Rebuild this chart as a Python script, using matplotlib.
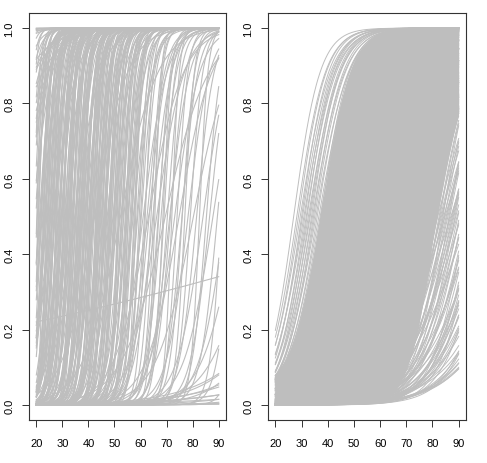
import numpy as np
import matplotlib
matplotlib.use("Agg")
import matplotlib.pyplot as plt

# each curve is a logistic p = 1 / (1 + exp(-slope * (age - mid)))
# left panel: wide prior
left_mid_low = [-45, -22, -9, 0, 3, 6, 8, 10, 11, 12,
                13, 14, 14.5, 15, 15.5, 16, 16.5, 17, 17.5, 18,
                18.5, 19, 19.5, -30, 5, 9, 12.5, 16.2, 18.8, 7]
left_slope_low = [0.15, 0.30, 0.20, 0.12, 0.25, 0.40, 0.18, 0.30, 0.50, 0.22,
                  0.35, 0.60, 0.20, 0.28, 0.45, 0.70, 0.33, 0.50, 0.90, 0.40,
                  0.26, 0.55, 0.38, 0.10, 0.14, 0.60, 0.17, 0.24, 0.80, 0.13]

left_mid_mid = [20.4, 20.9, 21.2, 21.9, 22.3, 22.5, 23.1, 23.4, 23.8, 24.0,
                24.6, 25.1, 25.3, 25.9, 26.0, 26.4, 26.7, 27.2, 27.8, 28.1,
                28.4, 28.9, 29.0, 29.5, 29.7, 30.3, 30.8, 31.1, 31.6, 31.9,
                32.2, 32.5, 33.0, 33.6, 33.9, 34.4, 34.7, 35.0, 35.2, 35.9,
                36.3, 36.6, 37.2, 37.5, 37.9, 38.1, 38.7, 39.3, 39.5, 40.1,
                40.4, 40.8, 41.0, 41.7, 42.2, 42.4, 43.1, 43.4, 43.8, 44.2,
                44.6, 45.3, 45.9, 46.2, 46.4, 46.9, 47.5, 48.0, 48.3, 49.0,
                49.4, 49.8, 50.4, 50.7, 51.5, 52.0, 52.3, 52.6, 53.4, 54.1,
                54.5, 55.0, 55.3, 56.0, 56.4, 57.2, 57.8, 58.1, 58.6, 59.5]
left_slope_mid = [0.55, 0.80, 0.42, 0.50, 0.34, 0.65, 0.48, 0.45, 1.00, 0.38,
                  0.60, 0.30, 0.70, 0.53, 0.55, 0.22, 0.90, 0.46, 0.62, 0.60,
                  0.40, 0.75, 0.56, 0.36, 0.48, 0.85, 0.44, 0.52, 0.51, 0.68,
                  0.35, 0.64, 0.95, 0.44, 0.58, 0.58, 0.20, 0.62, 0.49, 0.47,
                  0.78, 0.41, 0.60, 0.56, 0.43, 0.88, 0.54, 0.37, 0.66, 0.39,
                  0.50, 0.72, 0.43, 0.63, 0.60, 0.16, 0.57, 0.82, 0.45, 0.46,
                  0.50, 0.64, 0.34, 0.53, 0.59, 0.92, 0.42, 0.48, 0.53, 0.70,
                  0.28, 0.61, 0.57, 0.46, 0.76, 0.55, 0.14, 0.49, 0.63, 0.48,
                  0.44, 0.30, 0.68, 0.52, 0.54, 0.27, 0.60, 0.86, 0.44, 0.59]

left_mid_steep = [19.8, 20.2, 21.5, 22.0, 22.8, 23.3, 24.3, 24.9, 25.6, 26.2,
                  26.9, 27.5, 28.6, 29.3, 30.0, 30.6, 31.3, 32.0, 32.7, 33.4,
                  34.0, 34.9, 35.6, 36.1, 36.8, 37.6, 38.4, 39.0, 39.9, 40.6,
                  41.3, 42.0, 42.7, 43.3, 44.0, 44.9, 45.6, 46.6, 47.2, 48.1,
                  48.8, 49.6, 50.3, 51.1, 51.9, 52.8, 53.6, 54.4, 55.4, 56.6,
                  57.5, 58.9, 60.0, 61.5, 63.3, 65.0, 66.8, 69.0, 71.5, 76.0]
left_slope_steep = [0.45, 0.90, 0.35, 0.60, 1.20, 0.40, 0.75, 0.50, 0.30, 0.85,
                    0.55, 1.10, 0.38, 0.65, 0.48, 0.95, 0.33, 0.70, 0.42, 1.00,
                    0.58, 0.36, 0.80, 0.46, 0.62, 0.32, 0.88, 0.52, 0.40, 0.74,
                    0.56, 0.34, 0.98, 0.44, 0.66, 0.38, 0.82, 0.50, 0.30, 0.72,
                    0.46, 0.60, 0.36, 0.90, 0.42, 0.54, 0.32, 0.78, 0.48, 0.40,
                    0.64, 0.35, 0.52, 0.44, 0.30, 0.58, 0.38, 0.46, 0.34, 0.42]

left_mid_extra = [18.5, 19.2, 20.7, 21.6, 22.9, 23.6, 24.5, 25.4, 26.3, 27.1,
                  27.6, 28.7, 29.9, 30.5, 31.5, 32.4, 33.1, 34.2, 35.3, 36.2,
                  37.0, 37.7, 38.6, 39.4, 40.3, 41.2, 41.8, 42.9, 43.6, 44.4,
                  45.1, 46.0, 46.7, 47.7, 48.5, 50.0, 51.7, 53.0, 54.8, 56.8]
left_slope_extra = [0.60, 0.45, 0.72, 0.52, 0.66, 0.48, 0.85, 0.56, 0.62, 0.44,
                    0.78, 0.50, 0.58, 0.70, 0.46, 0.64, 0.54, 0.90, 0.48, 0.60,
                    0.52, 0.74, 0.45, 0.66, 0.56, 0.80, 0.50, 0.62, 0.47, 0.70,
                    0.55, 0.64, 0.49, 0.58, 0.68, 0.52, 0.60, 0.46, 0.66, 0.54]

left_mid_high = [60.3, 61.0, 61.8, 62.5, 63.1, 64.0, 64.7, 65.5, 66.2, 67.0,
                 67.9, 68.6, 69.5, 70.3, 71.2, 72.0, 73.1, 74.0, 74.8, 75.9,
                 77.0, 78.2, 79.1, 80.3, 81.5, 82.6, 84.0, 85.3, 86.5, 87.8,
                 89.5, 91.0, 92.5, 95.0, 97.0, 99.0, 104.0, 118.0, 125.0, 130.0,
                 138.0, 145.0, 150.0, 160.0, 170.0, 180.0, 200.0, 230.0, 260.0, 300.0,
                 167.0]
left_slope_high = [0.40, 0.22, 0.65, 0.30, 0.15, 0.52, 0.28, 0.80, 0.19, 0.45,
                   0.34, 0.60, 0.12, 0.38, 0.26, 0.70, 0.21, 0.48, 0.16, 0.33,
                   0.55, 0.24, 0.42, 0.14, 0.30, 0.62, 0.20, 0.36, 0.27, 0.18,
                   0.30, 0.45, 0.20, 0.35, 0.15, 0.40, 0.12, 0.10, 0.07, 0.06,
                   0.06, 0.09, 0.05, 0.06, 0.045, 0.04, 0.05, 0.03, 0.035, 0.03,
                   0.0086]

# right panel: tighter prior
right_mid_left = [27.0, 28.2, 28.8, 29.5, 30.0, 30.4, 30.9, 31.3, 31.8, 32.1,
                  32.6, 33.0, 33.3, 33.8, 34.2, 34.6, 35.0, 35.5, 36.0, 36.6]
right_slope_left = [0.200, 0.185, 0.190, 0.175, 0.195, 0.180, 0.170, 0.188, 0.176, 0.192,
                    0.168, 0.182, 0.174, 0.186, 0.165, 0.178, 0.172, 0.160, 0.170, 0.158]

right_mid_core = [37.1, 37.4, 37.8, 38.0, 38.3, 38.7, 38.9, 39.2, 39.6, 39.8,
                  40.1, 40.5, 40.7, 41.0, 41.4, 41.6, 41.9, 42.3, 42.5, 42.8,
                  43.2, 43.4, 43.7, 44.1, 44.3, 44.6, 45.0, 45.2, 45.5, 45.9,
                  46.1, 46.4, 46.8, 47.0, 47.3, 47.7, 47.9, 48.2, 48.6, 48.8,
                  49.1, 49.5, 49.7, 50.0, 50.4, 50.6, 50.9, 51.3, 51.5, 51.8,
                  52.2, 52.4, 52.7, 53.1, 53.3, 53.6, 54.0, 54.2, 54.5, 54.9,
                  55.1, 55.4, 55.8, 56.0, 56.3, 56.7, 56.9, 57.2, 57.6, 57.8,
                  58.1, 58.5, 58.7, 59.0, 59.4, 59.6, 59.9, 60.3, 60.5, 60.8,
                  61.2, 61.4, 61.7, 62.1, 62.3, 62.6, 63.0, 63.2, 63.5, 63.9,
                  64.1, 64.4, 64.8, 65.0, 65.3, 65.7, 65.9, 66.2, 66.6, 66.8,
                  67.1, 67.5, 67.7, 68.0, 68.4, 68.6, 68.9, 69.3, 69.5, 69.8,
                  70.2, 70.4, 70.7, 71.1, 71.3, 71.6, 72.0, 72.2, 72.5, 72.9,
                  73.1, 73.4, 73.8, 74.0, 74.3, 74.7, 74.9, 75.2, 75.6, 75.8,
                  76.1, 76.5, 76.7, 77.0, 77.4, 77.6, 77.9, 78.3, 78.5, 78.8,
                  79.1, 79.5, 79.7, 80.0, 80.4, 80.6, 80.9, 81.3, 81.5, 81.8]
right_slope_core = [0.160, 0.185, 0.150, 0.172, 0.148, 0.190, 0.158, 0.140, 0.176, 0.145,
                    0.130, 0.168, 0.122, 0.180, 0.135, 0.150, 0.118, 0.162, 0.128, 0.195,
                    0.112, 0.155, 0.104, 0.178, 0.125, 0.100, 0.142, 0.187, 0.110, 0.165,
                    0.098, 0.140, 0.170, 0.092, 0.120, 0.152, 0.095, 0.182, 0.108, 0.132,
                    0.090, 0.160, 0.115, 0.085, 0.145, 0.100, 0.175, 0.088, 0.130, 0.196,
                    0.082, 0.125, 0.150, 0.095, 0.170, 0.078, 0.138, 0.110, 0.185, 0.090,
                    0.075, 0.148, 0.100, 0.162, 0.085, 0.128, 0.190, 0.072, 0.115, 0.155,
                    0.070, 0.135, 0.092, 0.175, 0.110, 0.080, 0.150, 0.068, 0.125, 0.098,
                    0.140, 0.075, 0.165, 0.088, 0.120, 0.065, 0.105, 0.180, 0.082, 0.132,
                    0.070, 0.112, 0.155, 0.062, 0.095, 0.142, 0.078, 0.170, 0.100, 0.058,
                    0.125, 0.068, 0.150, 0.085, 0.060, 0.110, 0.178, 0.072, 0.138, 0.092,
                    0.065, 0.120, 0.088, 0.160, 0.070, 0.105, 0.145, 0.075, 0.130, 0.095,
                    0.150, 0.080, 0.110, 0.175, 0.090, 0.125, 0.085, 0.160, 0.100, 0.140,
                    0.090, 0.165, 0.115, 0.100, 0.140, 0.185, 0.105, 0.128, 0.155, 0.112,
                    0.120, 0.170, 0.135, 0.150, 0.190, 0.140, 0.160, 0.200, 0.175, 0.150]

right_mid_fringe = [80.5, 81.2, 82.0, 82.8, 83.1, 83.7, 84.3, 84.6, 85.2, 85.9,
                    86.6, 87.3, 87.6, 88.2, 88.9, 89.7, 90.6, 91.4, 92.2, 93.0,
                    93.9, 94.7, 95.6, 96.4, 97.5, 98.5, 99.6, 101.0, 102.2, 103.4]
right_slope_fringe = [0.125, 0.140, 0.110, 0.150, 0.120, 0.135, 0.105, 0.145, 0.115, 0.128,
                      0.138, 0.108, 0.122, 0.132, 0.112, 0.126, 0.118, 0.136, 0.104, 0.124,
                      0.114, 0.130, 0.102, 0.120, 0.110, 0.116, 0.100, 0.106, 0.098, 0.102]

right_mid_right = [82.5, 83.4, 84.0, 84.8, 85.5, 86.3, 87.0, 87.9, 88.6, 89.4,
                   90.3, 91.0, 91.9, 92.7, 93.5, 94.4, 95.2, 96.0, 97.1, 98.0,
                   99.2, 100.1, 101.3, 102.5, 103.6, 104.8, 106.0, 107.5, 108.8, 110.0,
                   111.5, 112.6, 113.8, 115.0, 116.3, 117.5, 118.5, 96.5, 100.7, 105.5]
right_slope_right = [0.150, 0.110, 0.175, 0.095, 0.130, 0.160, 0.088, 0.120, 0.145, 0.100,
                     0.135, 0.090, 0.118, 0.155, 0.085, 0.108, 0.140, 0.092, 0.125, 0.100,
                     0.088, 0.115, 0.095, 0.082, 0.105, 0.090, 0.112, 0.086, 0.098, 0.084,
                     0.092, 0.080, 0.088, 0.083, 0.085, 0.080, 0.079, 0.150, 0.130, 0.120]

age = np.linspace(20, 90, 300)
x_ticks = [20, 30, 40, 50, 60, 70, 80, 90]
y_ticks = [0.0, 0.2, 0.4, 0.6, 0.8, 1.0]
GREY = '#BEBEBE'

plt.rcParams['font.family'] = ['Liberation Sans', 'DejaVu Sans']

fig = plt.figure(figsize=(4.87, 4.64), dpi=100)
ax1 = fig.add_axes([29/487, 43/464, 197/487, 407/464])
ax2 = fig.add_axes([268/487, 43/464, 198/487, 407/464])


def curves(mids, slopes):
    m = np.asarray(mids)[:, None]
    s = np.asarray(slopes)[:, None]
    return 1.0 / (1.0 + np.exp(-s * (age[None, :] - m)))


def draw_curves(ax, mids, slopes, lw=0.8):
    for p in curves(mids, slopes):
        ax.plot(age, p, color=GREY, lw=lw)


draw_curves(ax1, left_mid_low, left_slope_low)
draw_curves(ax1, left_mid_mid, left_slope_mid)
draw_curves(ax1, left_mid_steep, left_slope_steep)
draw_curves(ax1, left_mid_extra, left_slope_extra)
draw_curves(ax1, left_mid_high, left_slope_high)

# the core of the right panel is so dense it prints as a solid band
core = curves(right_mid_core, right_slope_core)
ax2.fill_between(age, core.min(axis=0), core.max(axis=0), color=GREY, lw=0)
draw_curves(ax2, right_mid_core, right_slope_core, lw=0.7)
draw_curves(ax2, right_mid_left, right_slope_left, lw=0.7)
draw_curves(ax2, right_mid_fringe, right_slope_fringe, lw=0.7)
draw_curves(ax2, right_mid_right, right_slope_right, lw=0.7)

for ax in (ax1, ax2):
    ax.set_xlim(17.2, 92.8)
    ax.set_ylim(-0.04, 1.04)
    ax.set_xticks(x_ticks)
    ax.set_xticklabels([str(t) for t in x_ticks])
    ax.set_yticks(y_ticks)
    ax.set_yticklabels(['%.1f' % t for t in y_ticks], rotation=90, va='center')
    ax.tick_params(axis='both', length=5, width=0.7, color='#333333',
                   labelsize=8, labelcolor='black')
    ax.tick_params(axis='x', pad=8.0)
    ax.tick_params(axis='y', pad=5.5)
    for sp in ax.spines.values():
        sp.set_linewidth(0.8)
        sp.set_color('#333333')

fig.savefig('out.png', dpi=100)
